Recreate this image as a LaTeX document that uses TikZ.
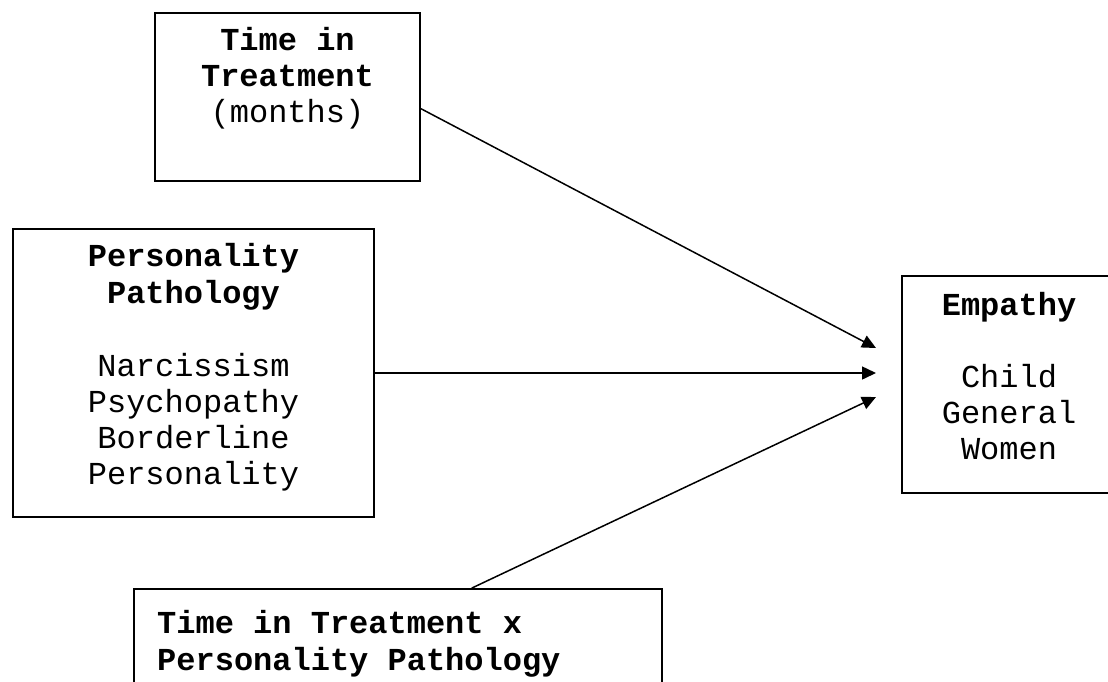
\documentclass[tikz,border=0pt]{standalone}
\usepackage{fontspec}
\setmainfont{Liberation Mono}
\usetikzlibrary{arrows.meta}
\tikzset{
  boxst/.style={draw=black, line width=1.8pt, inner sep=0pt, fill=none},
  txt/.style={inner sep=0pt, anchor=base, font=\fontsize{32}{36.5}\selectfont},
  btxt/.style={txt, font=\fontsize{32}{36.5}\selectfont\bfseries},
  arr/.style={line width=1.5pt, -{Triangle[length=14pt,width=13pt]}}
}
\begin{document}
\begin{tikzpicture}[x=1pt,y=-1pt]
\useasboundingbox (0,0) rectangle (1108,681);
\clip (0,0) rectangle (1108,681);
\fill[white] (0,0) rectangle (1108,681);

% boxes
\node[boxst, minimum width=265pt, minimum height=168pt] (b1) at (287.5,97) {};
\node[boxst, minimum width=361pt, minimum height=288pt] (b2) at (193.5,373) {};
\node[boxst, minimum width=214pt, minimum height=217pt] (b3) at (1009,384.5) {};
\node[boxst, minimum width=528pt, minimum height=131pt] (b4) at (398,654.5) {};

% box 1 text
\node[btxt] (t1a) at (287.5,50) {Time in};
\node[btxt] (t1b) at (287.5,86) {Treatment};
\node[txt] (t1c) at (287.5,122) {(months)};

% box 2 text
\node[btxt] (t2a) at (193.5,266) {Personality};
\node[btxt] (t2b) at (193.5,303) {Pathology};
\node[txt] (t2c) at (193.5,376) {Narcissism};
\node[txt] (t2d) at (193.5,412) {Psychopathy};
\node[txt] (t2e) at (193.5,448) {Borderline};
\node[txt] (t2f) at (193.5,484) {Personality};

% empathy text
\node[btxt] (t3a) at (1009,315) {Empathy};
\node[txt] (t3b) at (1009,387) {Child};
\node[txt] (t3c) at (1009,423) {General};
\node[txt] (t3d) at (1009,459) {Women};

% box 4 text
\node[btxt, anchor=base west] (t4a) at (157,633) {Time in Treatment x};
\node[btxt, anchor=base west] (t4b) at (157,670) {Personality Pathology};

% arrow targets
\coordinate (e1) at (876,348);
\coordinate (e2) at (876,373);
\coordinate (e3) at (876,397);

\draw[arr] (b1.-5.2) -- (e1);
\draw[arr] (b2.east) -- (e2);
\draw[arr] (b4.42.3) -- (e3);
\end{tikzpicture}
\end{document}
